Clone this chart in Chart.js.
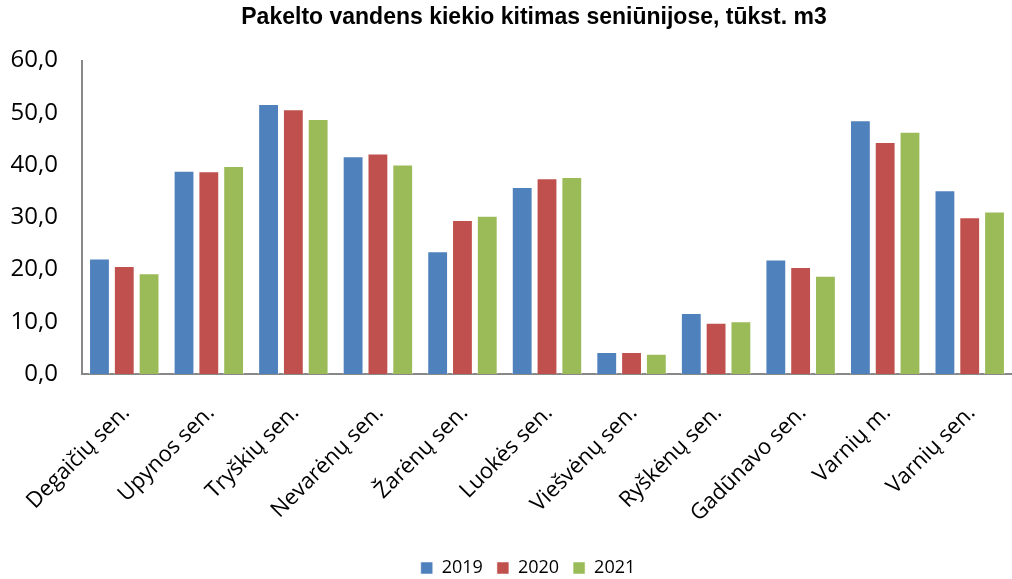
<!DOCTYPE html>
<html>
<head>
<meta charset="utf-8">
<script src="https://cdn.jsdelivr.net/npm/chart.js@4.4.1/dist/chart.umd.min.js"></script>
<style>
  body { margin: 0; background: #fff; }
  #wrap { width: 1012px; height: 579px; }
</style>
</head>
<body>
<div id="wrap"><canvas id="chart" width="1012" height="579"></canvas></div>
<script>
// categories (seniūnijos)
const categories = [
    'Degaičių sen.', 'Upynos sen.', 'Tryškių sen.', 'Nevarėnų sen.', 'Žarėnų sen.',
    'Luokės sen.', 'Viešvėnų sen.', 'Ryškėnų sen.', 'Gadūnavo sen.', 'Varnių m.', 'Varnių sen.'
];

// values, tūkst. m3
const values2019 = [22.1, 38.9, 51.7, 41.7, 23.5, 35.8, 4.2, 11.7, 21.9, 48.6, 35.2];
const values2020 = [20.7, 38.8, 50.7, 42.2, 29.5, 37.5, 4.2, 9.8, 20.5, 44.4, 30.0];
const values2021 = [19.3, 39.8, 48.8, 40.1, 30.3, 37.7, 3.9, 10.1, 18.8, 46.4, 31.1];

const seriesLabels = ['2019', '2020', '2021'];
const seriesColors = ['#4F81BD', '#C0504D', '#9BBB59'];

const yMin = 0;
const yMax = 60;
const yStep = 10;

const FONT = "'Liberation Sans', Arial, sans-serif";
const LABEL_FONT = "'Open Sans', sans-serif";

// the original has title and legend a bit right of the canvas centre
const shiftBoxes = {
    id: 'shiftBoxes',
    afterLayout(chart) {
        chart.titleBlock.left += 24;
        chart.titleBlock.right += 24;
        chart.legend.left += 18;
        chart.legend.right += 18;
    }
};

const datasets = [values2019, values2020, values2021].map((data, i) => ({
    label: seriesLabels[i],
    data: data,
    backgroundColor: seriesColors[i],
    borderColor: 'rgba(255,255,255,0.5)',
    borderWidth: 1,
    categoryPercentage: 0.88,
    barPercentage: 0.84
}));

new Chart(document.getElementById('chart'), {
    type: 'bar',
    data: { labels: categories, datasets: datasets },
    plugins: [shiftBoxes],
    options: {
        responsive: false,
        animation: false,
        layout: { padding: { left: 8, right: 0, top: 0, bottom: -8 } },
        plugins: {
            title: {
                display: true,
                text: 'Pakelto vandens kiekio kitimas seniūnijose, tūkst. m3',
                color: '#000',
                font: { family: FONT, size: 23, weight: 'bold' },
                padding: { top: 4, bottom: 29 }
            },
            legend: {
                position: 'bottom',
                labels: {
                    color: '#000',
                    font: { family: LABEL_FONT, size: 18 },
                    boxWidth: 12,
                    boxHeight: 12,
                    padding: 14
                }
            },
            tooltip: { enabled: false }
        },
        scales: {
            x: {
                grid: { display: false },
                border: { display: true, color: '#888888', width: 2 },
                ticks: {
                    color: '#000',
                    font: { family: LABEL_FONT, size: 22 },
                    minRotation: 45,
                    maxRotation: 45,
                    labelOffset: 2,
                    padding: 18,
                    autoSkip: false
                },
                afterFit: (scale) => {
                    scale.height = 171;
                    scale.paddingLeft = 0;
                    scale.paddingRight = 0;
                }
            },
            y: {
                min: yMin,
                max: yMax,
                grid: { display: false },
                border: { display: true, color: '#888888', width: 2 },
                ticks: {
                    stepSize: yStep,
                    color: '#000',
                    padding: 16,
                    font: { family: LABEL_FONT, size: 24 },
                    callback: (v) => v.toFixed(1).replace('.', ',')
                },
                afterFit: (scale) => { scale.width = 74; }
            }
        }
    }
});
</script>
</body>
</html>
